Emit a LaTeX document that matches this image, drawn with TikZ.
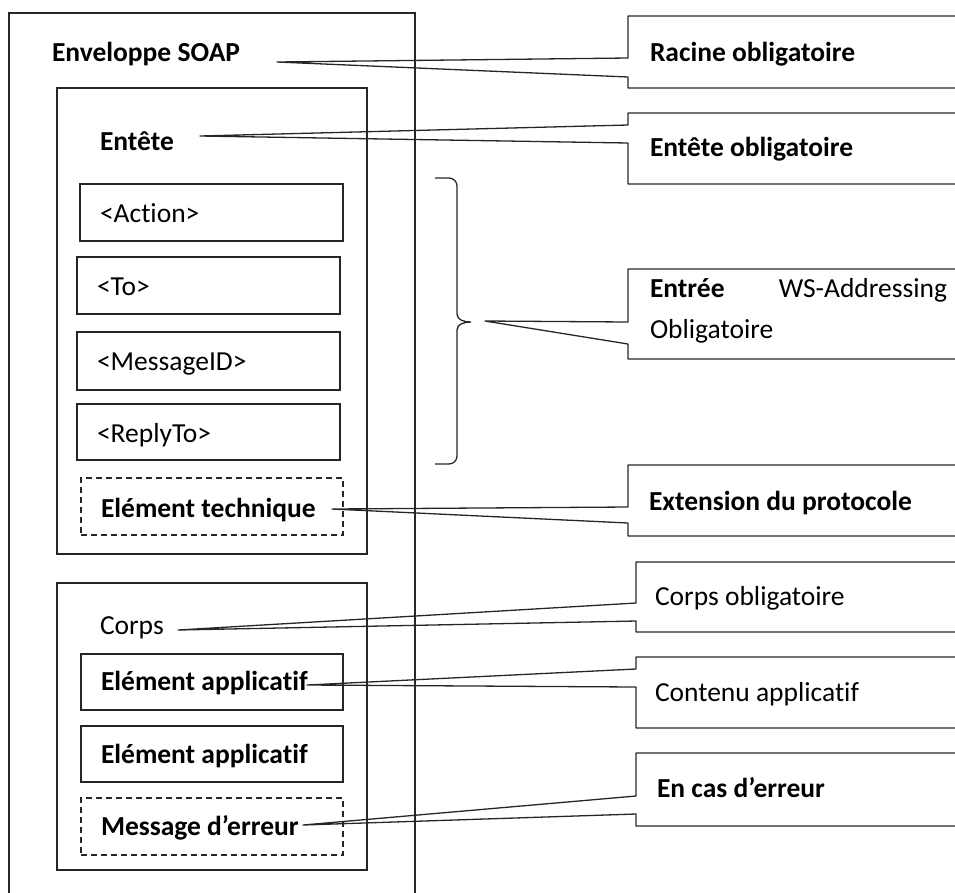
\documentclass[tikz,border=0pt]{standalone}
\usepackage{fontspec}
\setmainfont{Carlito}[Ligatures={NoCommon}]
\begin{document}
\begin{tikzpicture}[x=1pt,y=-1pt,
  box/.style={draw=black!85, line width=1.3pt, inner sep=0pt, outer sep=0pt},
  dbox/.style={box, dash pattern=on 6pt off 4pt},
  txt/.style={inner sep=0pt, outer sep=0pt, anchor=base west, font=\fontsize{27.5pt}{33pt}\selectfont},
  callout/.style={draw=black!85, line width=1.3pt, line join=round},
  brace/.style={draw=black!85, line width=1.3pt}]
\useasboundingbox (0,0) rectangle (955,892);
\clip (0,0) rectangle (955,892);

% outer envelope (bottom edge outside the picture)
\draw[box] (9,900) -- (9,13) -- (415,13) -- (415,900);

% header and body boxes
\node[box, minimum width=310pt, minimum height=466pt] (hdr) at (212,321) {};
\node[box, minimum width=310pt, minimum height=287pt] (body) at (212,726.5) {};

% header entries
\node[box, minimum width=263pt, minimum height=57pt] (bAction) at (211.5,212.5) {};
\node[box, minimum width=263pt, minimum height=57pt] (bTo) at (208.5,285.5) {};
\node[box, minimum width=263pt, minimum height=58pt] (bMsg) at (208.5,361) {};
\node[box, minimum width=263pt, minimum height=56pt] (bReply) at (208.5,432) {};
\node[dbox, minimum width=262pt, minimum height=57pt] (bTech) at (212,506.5) {};

% body entries
\node[box, minimum width=262pt, minimum height=56pt] (bApp1) at (212,682) {};
\node[box, minimum width=262pt, minimum height=56pt] (bApp2) at (212,754) {};
\node[dbox, minimum width=262pt, minimum height=57pt] (bErr) at (212,826.5) {};

% left texts
\node[txt] (tEnv) at (52,61) {\textbf{Enveloppe SOAP}};
\node[txt] (tHdr) at (100,150) {\textbf{Entête}};
\node[txt] (tAction) at (100,222) {<Action>};
\node[txt] (tTo) at (97,295) {<To>};
\node[txt] (tMsg) at (97,370) {<MessageID>};
\node[txt] (tReply) at (97,442) {<ReplyTo>};
\node[txt] (tTech) at (101,517) {\textbf{Elément technique}};
\node[txt] (tCorps) at (100,634) {Corps};
\node[txt] (tApp1) at (101,690) {\textbf{Elément applicatif}};
\node[txt] (tApp2) at (101,763) {\textbf{Elément applicatif}};
\node[txt] (tErr) at (101,835) {\textbf{Message d’erreur}};

% right callout texts
\node[txt] (cRac) at (650,61) {\textbf{Racine obligatoire}};
\node[txt] (cHdr) at (650,156) {\textbf{Entête obligatoire}};
\node[txt] (cWS1) at (650,297) {\textbf{Entrée}};
\node[txt, anchor=base east] (cWS2) at (947,297) {WS-Addressing};
\node[txt] (cWS3) at (650,338) {Obligatoire};
\node[txt] (cExt) at (649,510) {\textbf{Extension du protocole}};
\node[txt] (cCorps) at (655,605) {Corps obligatoire};
\node[txt] (cCont) at (655,701) {Contenu applicatif};
\node[txt] (cErr) at (657,797) {\textbf{En cas d’erreur}};

% pointer tips
\coordinate (pRac) at (277,62);
\coordinate (pHdr) at (200,136);
\coordinate (pWS) at (485,321);
\coordinate (pExt) at (332,509);
\coordinate (pCorps) at (178,630);
\coordinate (pCont) at (307,685);
\coordinate (pErr) at (303,825);

% brace
\coordinate (brTip) at (471,322);
\draw[brace] (435,178) -- (449,178) to[out=0,in=90] (457,186) -- (457,314)
  to[out=-90,in=180] (brTip) to[out=180,in=90] (457,330) -- (457,456)
  to[out=-90,in=0] (449,464) -- (435,464);

% callouts
\draw[callout] (970,16) -- (628,16) -- (628,58) -- (pRac) -- (628,77) -- (628,88) -- (970,88);
\draw[callout] (970,113) -- (628,113) -- (628,125) -- (pHdr) -- (628,143) -- (628,184) -- (970,184);
\draw[callout] (970,269) -- (628,269) -- (628,322) -- (pWS) -- (628,344) -- (628,359) -- (970,359);
\draw[callout] (970,465) -- (628,465) -- (628,507) -- (pExt) -- (628,523) -- (628,536) -- (970,536);
\draw[callout] (970,562) -- (636,562) -- (636,603) -- (pCorps) -- (636,621) -- (636,632) -- (970,632);
\draw[callout] (970,657) -- (636,657) -- (636,669) -- (pCont) -- (636,687) -- (636,728) -- (970,728);
\draw[callout] (970,753) -- (636,753) -- (636,796) -- (pErr) -- (636,814) -- (636,826) -- (970,826);
\end{tikzpicture}
\end{document}
